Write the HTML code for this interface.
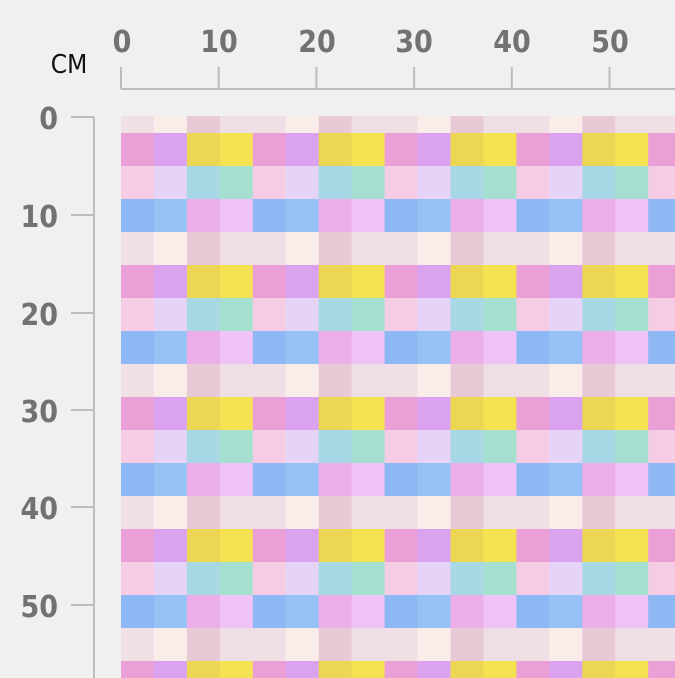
<!DOCTYPE html>
<html><head><meta charset="utf-8"><style>
html,body{margin:0;padding:0;background:#f0f0f0;}
svg{display:block}
text{font-family:"DejaVu Sans Condensed","Liberation Sans Narrow","Liberation Sans",sans-serif;font-weight:bold;fill:#727272;font-size:30px}
</style></head><body>
<svg width="675" height="678" viewBox="0 0 675 678" xmlns="http://www.w3.org/2000/svg">
<defs>
<pattern id="p" x="121" y="100" width="131.8" height="132" patternUnits="userSpaceOnUse">
<rect x="0" y="0" width="32.95" height="33" fill="#f0e0e6"/>
<rect x="32.95" y="0" width="32.95" height="33" fill="#faece8"/>
<rect x="65.9" y="0" width="32.95" height="33" fill="#e8cad6"/>
<rect x="98.85" y="0" width="32.95" height="33" fill="#efdfe5"/>
<rect x="0" y="33" width="32.95" height="33" fill="#ea9fd6"/>
<rect x="32.95" y="33" width="32.95" height="33" fill="#dba3ef"/>
<rect x="65.9" y="33" width="32.95" height="33" fill="#ecd653"/>
<rect x="98.85" y="33" width="32.95" height="33" fill="#f5e253"/>
<rect x="0" y="66" width="32.95" height="33" fill="#f5cce4"/>
<rect x="32.95" y="66" width="32.95" height="33" fill="#e5d3f8"/>
<rect x="65.9" y="66" width="32.95" height="33" fill="#a8d8e5"/>
<rect x="98.85" y="66" width="32.95" height="33" fill="#a4dfd0"/>
<rect x="0" y="99" width="32.95" height="33" fill="#8db8f3"/>
<rect x="32.95" y="99" width="32.95" height="33" fill="#96c2f5"/>
<rect x="65.9" y="99" width="32.95" height="33" fill="#ebaee8"/>
<rect x="98.85" y="99" width="32.95" height="33" fill="#f0c3f8"/>
</pattern>
</defs>
<rect x="0" y="0" width="675" height="678" fill="#f0f0f0"/>
<rect x="121" y="116" width="554" height="562" fill="url(#p)"/>
<g stroke="#bdbdbd" stroke-width="2" fill="none">
<line x1="121" y1="89" x2="675" y2="89"/>
<line x1="121" y1="67" x2="121" y2="89"/>
<line x1="218.7" y1="67" x2="218.7" y2="89"/>
<line x1="316.4" y1="67" x2="316.4" y2="89"/>
<line x1="414.1" y1="67" x2="414.1" y2="89"/>
<line x1="511.8" y1="67" x2="511.8" y2="89"/>
<line x1="609.5" y1="67" x2="609.5" y2="89"/>
<line x1="94" y1="117" x2="94" y2="678"/>
<line x1="71" y1="117" x2="94" y2="117"/>
<line x1="71" y1="215" x2="94" y2="215"/>
<line x1="71" y1="313" x2="94" y2="313"/>
<line x1="71" y1="410" x2="94" y2="410"/>
<line x1="71" y1="507" x2="94" y2="507"/>
<line x1="71" y1="605" x2="94" y2="605"/>
</g>
<g text-anchor="middle">
<text x="122" y="52">0</text>
<text x="219" y="52">10</text>
<text x="317" y="52">20</text>
<text x="414" y="52">30</text>
<text x="512" y="52">40</text>
<text x="610" y="52">50</text>
</g>
<g text-anchor="end">
<text x="58" y="129">0</text>
<text x="58" y="227">10</text>
<text x="58" y="325">20</text>
<text x="58" y="422">30</text>
<text x="58" y="519">40</text>
<text x="58" y="617">50</text>
</g>
<text x="69" y="73" text-anchor="middle" style="fill:#111;font-weight:normal;font-size:26px;font-family:'DejaVu Sans Condensed','Liberation Sans',sans-serif">CM</text>
</svg>
</body></html>
